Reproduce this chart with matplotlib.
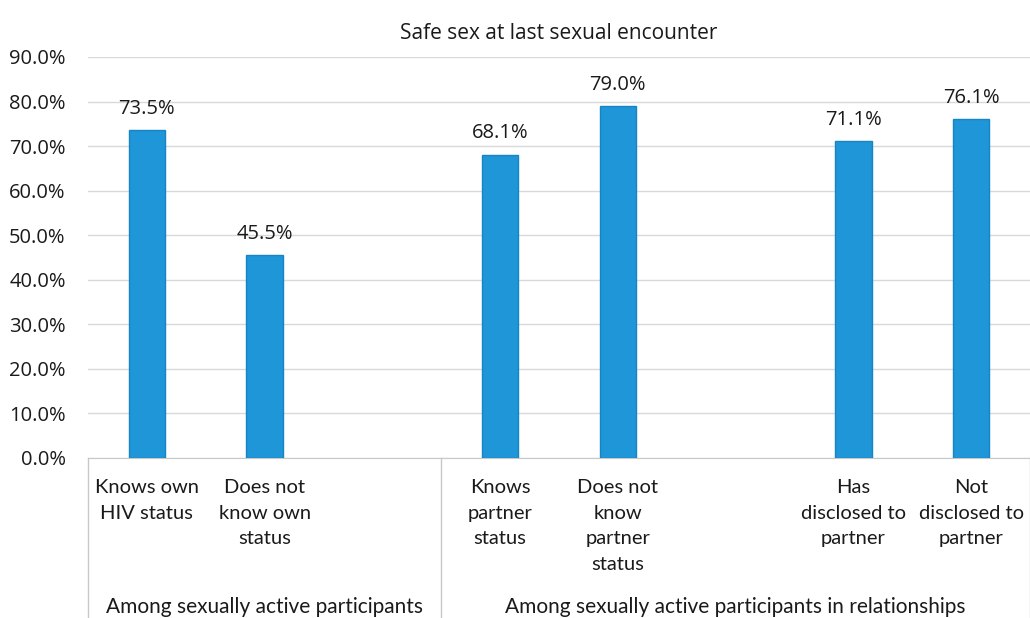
import matplotlib.pyplot as plt
from matplotlib.ticker import FuncFormatter, MultipleLocator

# Chart data (blank slots are the gaps Excel leaves between groups)
CATEGORIES = ["Knows own\nHIV status", "Does not\nknow own\nstatus", "",
              "Knows\npartner\nstatus", "Does not\nknow\npartner\nstatus", "",
              "Has\ndisclosed to\npartner", "Not\ndisclosed to\npartner"]
VALUES = [73.5, 45.5, None, 68.1, 79.0, None, 71.1, 76.1]

GROUP_NAMES = ["Among sexually active participants",
               "Among sexually active participants in relationships"]
GROUP_SPANS = [(0, 2), (3, 7)]

TITLE = "Safe sex at last sexual encounter"

BAR_COLOR = '#1E96D8'
EDGE_COLOR = '#1784C6'
GRID_COLOR = '#D9D9D9'
AXIS_COLOR = '#C8C8C8'
TEXT_COLOR = '#1a1a1a'

fig = plt.figure(figsize=(10.3, 6.18), dpi=100)
ax = fig.add_axes([0.0854, 0.2589, 0.9146, 0.6489])

xs = [i for i, v in enumerate(VALUES) if v is not None]
ys = [v for v in VALUES if v is not None]
ax.bar(xs, ys, width=0.31, color=BAR_COLOR, edgecolor=EDGE_COLOR, linewidth=1, zorder=3)

for x, y in zip(xs, ys):
    ax.annotate(f"{y:.1f}%", (x, y), xytext=(0, 8), textcoords='offset points',
                ha='center', va='bottom', fontsize=14.5, family='Open Sans', color=TEXT_COLOR)

ax.set_xlim(-0.5, len(CATEGORIES) - 0.5)
ax.set_ylim(0, 90)
ax.yaxis.set_major_locator(MultipleLocator(10))
ax.yaxis.set_major_formatter(FuncFormatter(lambda v, p: f"{v:.1f}%"))
ax.tick_params(axis='y', length=0, pad=16, labelsize=14.5, labelcolor=TEXT_COLOR)
for lab in ax.get_yticklabels():
    lab.set_family('Open Sans')
ax.set_xticks([])
ax.grid(axis='y', color=GRID_COLOR, linewidth=1, zorder=0)
for side in ['top', 'right', 'left']:
    ax.spines[side].set_visible(False)
ax.spines['bottom'].set_color(AXIS_COLOR)
ax.set_axisbelow(True)

# Category labels under each bar
for i, label in enumerate(CATEGORIES):
    if label:
        ax.text(i, -0.052, label, transform=ax.get_xaxis_transform(), ha='center', va='top',
                fontsize=14.5, family='Lato', linespacing=1.62, color=TEXT_COLOR)

# Group labels and separator lines
for name, (a, b) in zip(GROUP_NAMES, GROUP_SPANS):
    ax.text((a + b) / 2, -0.372, name, transform=ax.get_xaxis_transform(), ha='center',
            va='center', fontsize=15, family='Lato', color=TEXT_COLOR)
for x in [-0.5, 2.5, len(CATEGORIES) - 0.5]:
    ax.plot([x, x], [0, -0.42], transform=ax.get_xaxis_transform(), color=AXIS_COLOR,
            linewidth=1, clip_on=False)

ax.set_title(TITLE, fontsize=15, family='Open Sans', color=TEXT_COLOR, pad=13)

fig.savefig('out.png', dpi=100, facecolor='white')
